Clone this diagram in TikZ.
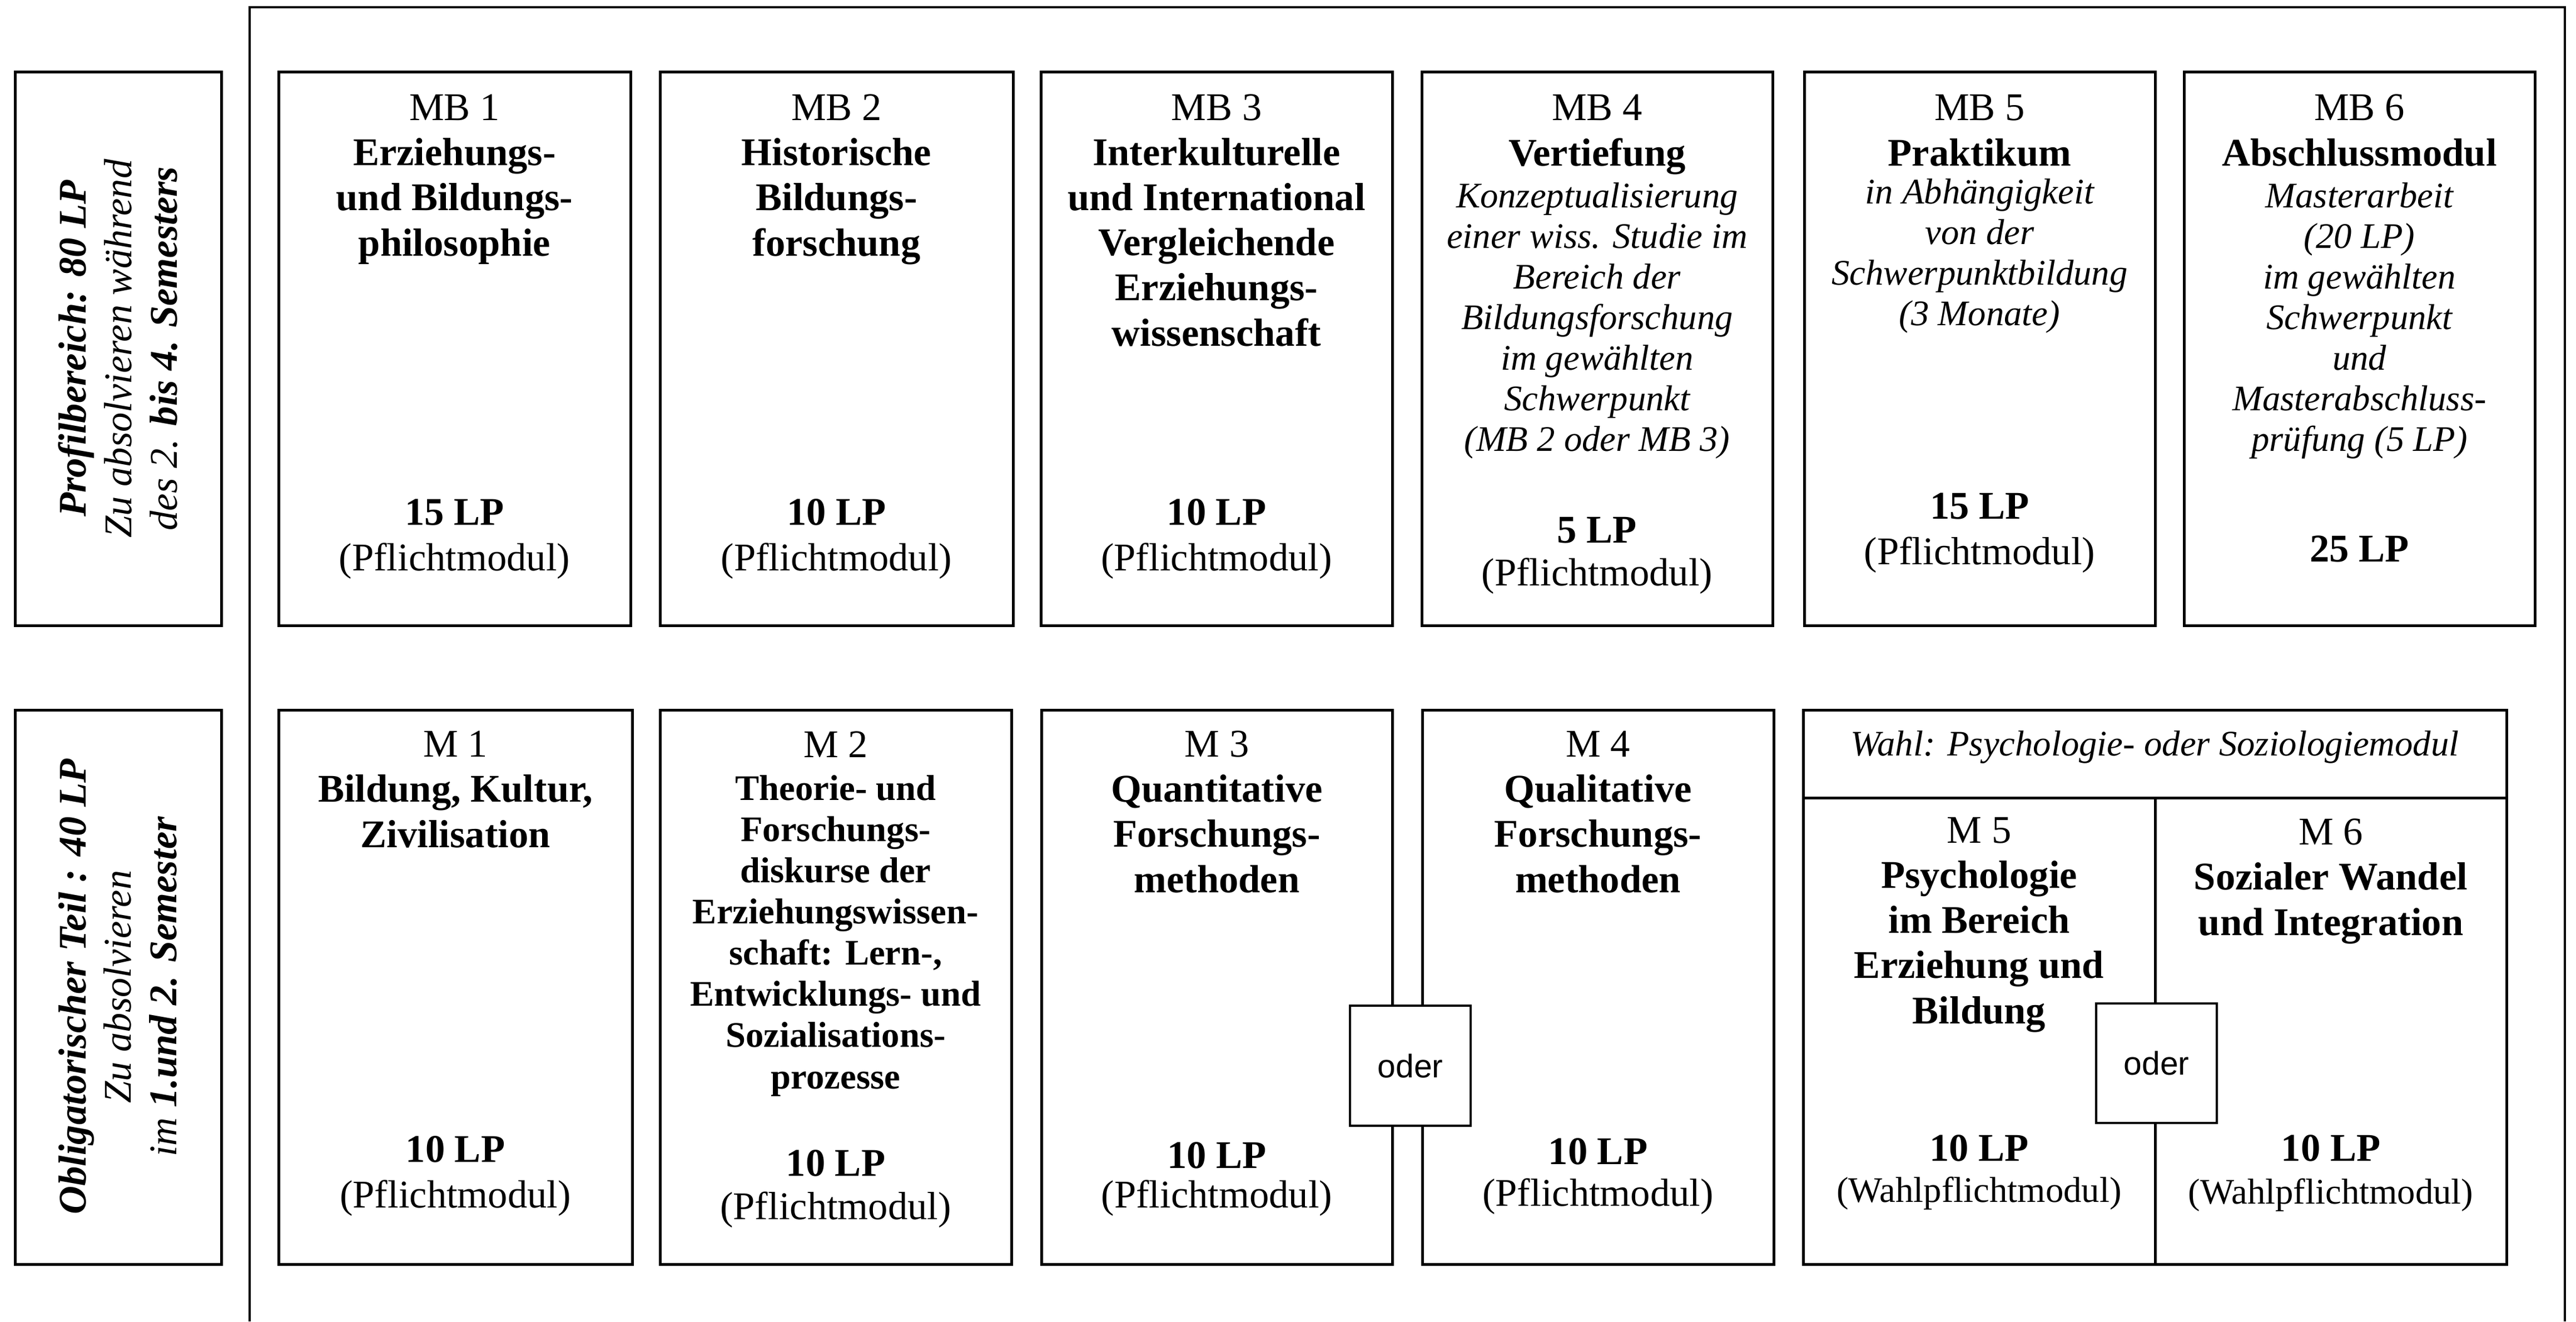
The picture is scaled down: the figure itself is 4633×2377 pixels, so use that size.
\documentclass[tikz,border=0pt]{standalone}
\usepackage{fontspec}
\setmainfont{Liberation Serif}
\newfontfamily\odersans{Liberation Sans}
\usetikzlibrary{fit}
\begin{document}
\begin{tikzpicture}[x=0.17pt,y=-0.17pt,
  box/.style={draw, line width=0.85pt, inner sep=0pt, rectangle},
  ttl/.style={anchor=base, align=center, inner sep=0pt, font=\fontsize{12}{13.8}\selectfont},
  desc/.style={anchor=base, align=center, inner sep=0pt, font=\fontsize{11}{12.4}\selectfont\itshape},
  wpm/.style={anchor=base, align=center, inner sep=0pt, font=\fontsize{11}{12.6}\selectfont},
  oderbox/.style={draw, fill=white, line width=0.8pt, inner sep=0pt, rectangle},
  odertxt/.style={font=\odersans\fontsize{10}{12}\selectfont, inner sep=0pt},
  side/.style={rotate=90, align=center, inner sep=0pt, font=\fontsize{12}{13.9}\selectfont\itshape}]

\useasboundingbox (0,0) rectangle (4633,2377);

% outer frame (open at the bottom)
\coordinate (fbl) at (449,2377);
\coordinate (ftl) at (449,13);
\coordinate (ftr) at (4613,13);
\coordinate (fbr) at (4613,2377);
\draw[line width=0.7pt] (fbl) -- (ftl) -- (ftr) -- (fbr);

% side labels
\node[box, fit={(27,129) (398,1125)}] (side1) {};
\node[side] (side1t) at (212,627) {\textbf{Profilbereich: 80 LP}\\Zu absolvieren während\\des 2. \textbf{bis 4. Semesters}};
\node[box, fit={(27,1277) (398,2274)}] (side2) {};
\node[side] (side2t) at (212,1775) {\textbf{Obligatorischer Teil : 40 LP}\\Zu absolvieren\\im \textbf{1.und 2. Semester}};

% ---------- top row ----------
% (anchor=base of a multi-line node = baseline of its last line)
\node[box, fit={(501,129) (1134,1125)}] (mb1) {};
\node[ttl] (mb1t) at (817.5,460) {MB 1\\\textbf{Erziehungs-}\\\textbf{und Bildungs-}\\\textbf{philosophie}};
\node[ttl] (mb1l) at (817.5,1026) {\textbf{15 LP}\\(Pflichtmodul)};

\node[box, fit={(1187,129) (1822,1125)}] (mb2) {};
\node[ttl] (mb2t) at (1504.5,460) {MB 2\\\textbf{Historische}\\\textbf{Bildungs-}\\\textbf{forschung}};
\node[ttl] (mb2l) at (1504.5,1026) {\textbf{10 LP}\\(Pflichtmodul)};

\node[box, fit={(1872,129) (2504,1125)}] (mb3) {};
\node[ttl] (mb3t) at (2188,622) {MB 3\\\textbf{Interkulturelle}\\\textbf{und International}\\\textbf{Vergleichende}\\\textbf{Erziehungs-}\\\textbf{wissenschaft}};
\node[ttl] (mb3l) at (2188,1026) {\textbf{10 LP}\\(Pflichtmodul)};

\node[box, fit={(2557,129) (3188,1125)}] (mb4) {};
\node[ttl] (mb4t) at (2872.5,298) {MB 4\\\textbf{Vertiefung}};
\node[desc] (mb4d) at (2872.5,811) {Konzeptualisierung\\einer wiss. Studie im\\Bereich der\\Bildungsforschung\\im gewählten\\Schwerpunkt\\(MB 2 oder MB 3)};
\node[ttl, font=\fontsize{12}{13}\selectfont] (mb4l) at (2872.5,1053) {\textbf{5 LP}\\(Pflichtmodul)};

\node[box, fit={(3245,129) (3876,1125)}] (mb5) {};
\node[ttl] (mb5t) at (3560.5,298) {MB 5\\\textbf{Praktikum}};
\node[desc] (mb5d) at (3560.5,585) {in Abhängigkeit\\von der\\Schwerpunktbildung\\(3 Monate)};
\node[ttl] (mb5l) at (3560.5,1015) {\textbf{15 LP}\\(Pflichtmodul)};

\node[box, fit={(3928,129) (4559,1125)}] (mb6) {};
\node[ttl] (mb6t) at (4243.5,298) {MB 6\\\textbf{Abschlussmodul}};
\node[desc] (mb6d) at (4243.5,811) {Masterarbeit\\(20 LP)\\im gewählten\\Schwerpunkt\\und\\Masterabschluss-\\prüfung (5 LP)};
\node[ttl] (mb6l) at (4243.5,1010) {\textbf{25 LP}};

% ---------- bottom row ----------
\node[box, fit={(501,1277) (1137,2274)}] (m1) {};
\node[ttl] (m1t) at (819,1524) {M 1\\\textbf{Bildung, Kultur,}\\\textbf{Zivilisation}};
\node[ttl] (m1l) at (819,2172) {\textbf{10 LP}\\(Pflichtmodul)};

\node[box, fit={(1187,1277) (1819,2274)}] (m2) {};
\node[ttl] (m2h) at (1503,1362) {M 2};
\node[ttl, font=\fontsize{11}{12.6}\selectfont\bfseries] (m2t) at (1503,1958) {Theorie- und\\Forschungs-\\diskurse der\\Erziehungswissen-\\schaft: Lern-,\\Entwicklungs- und\\Sozialisations-\\prozesse};
\node[ttl, font=\fontsize{12}{13.1}\selectfont] (m2l) at (1503,2193) {\textbf{10 LP}\\(Pflichtmodul)};

\node[box, fit={(1873,1277) (2504,2274)}] (m3) {};
\node[ttl] (m3t) at (2188.5,1605) {M 3\\\textbf{Quantitative}\\\textbf{Forschungs-}\\\textbf{methoden}};
\node[ttl, font=\fontsize{12}{12}\selectfont] (m3l) at (2188.5,2172) {\textbf{10 LP}\\(Pflichtmodul)};

\node[box, fit={(2558,1277) (3190,2274)}] (m4) {};
\node[ttl] (m4t) at (2874,1605) {M 4\\\textbf{Qualitative}\\\textbf{Forschungs-}\\\textbf{methoden}};
\node[ttl, font=\fontsize{12}{12.7}\selectfont] (m4l) at (2874,2169) {\textbf{10 LP}\\(Pflichtmodul)};

% elective group
\node[box, fit={(3243,1277) (4508,1435)}] (wahl) {};
\node[desc] (wahlt) at (3875.5,1359) {Wahl: Psychologie- oder Soziologiemodul};
\node[box, fit={(3243,1435) (3876,2274)}] (m5) {};
\node[box, fit={(3876,1435) (4508,2274)}] (m6) {};
\node[ttl] (m5t) at (3559.5,1841) {M 5\\\textbf{Psychologie}\\\textbf{im Bereich}\\\textbf{Erziehung und}\\\textbf{Bildung}};
\node[ttl] (m5h) at (3559.5,2088) {\textbf{10 LP}};
\node[wpm] (m5l) at (3559.5,2162) {(Wahlpflichtmodul)};
\node[ttl] (m6t) at (4192,1682) {M 6\\\textbf{Sozialer Wandel}\\\textbf{und Integration}};
\node[ttl] (m6h) at (4192,2088) {\textbf{10 LP}};
\node[wpm] (m6l) at (4192,2165) {(Wahlpflichtmodul)};

% "oder" boxes
\node[oderbox, fit={(2428,1809) (2645,2025)}] (oder1) {};
\node[odertxt] (oder1t) at (oder1.center) {oder};
\node[oderbox, fit={(3770,1805) (3987,2020)}] (oder2) {};
\node[odertxt] (oder2t) at (oder2.center) {oder};
\end{tikzpicture}
\end{document}
